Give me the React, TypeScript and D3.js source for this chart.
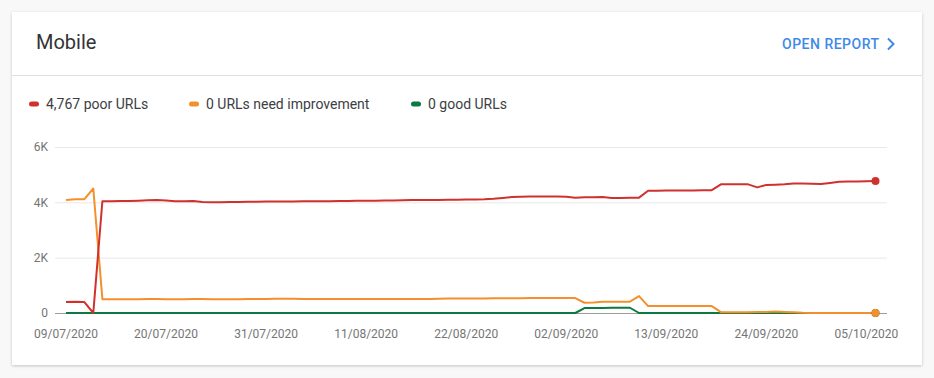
import React from "react";
import * as d3 from "d3";

const startDate = "2020-07-09";
const tickEvery = 11;
const yTicks = [0, 2000, 4000, 6000];

const poorValues = [
  400, 410, 400, 0, 4040, 4040, 4045, 4050, 4060, 4075,
  4080, 4070, 4040, 4040, 4045, 4010, 4000, 4005, 4010, 4010,
  4020, 4025, 4030, 4030, 4030, 4030, 4035, 4035, 4040, 4040,
  4045, 4050, 4055, 4060, 4060, 4065, 4070, 4075, 4080, 4080,
  4085, 4085, 4090, 4095, 4100, 4100, 4110, 4130, 4160, 4190,
  4200, 4210, 4210, 4210, 4210, 4200, 4170, 4180, 4180, 4190,
  4160, 4160, 4165, 4170, 4420, 4420, 4425, 4425, 4430, 4430,
  4440, 4440, 4650, 4650, 4650, 4650, 4540, 4630, 4640, 4650,
  4680, 4680, 4670, 4660, 4700, 4740, 4750, 4755, 4760, 4767,
];

const needsValues = [
  4080, 4110, 4110, 4500, 500, 500, 500, 500, 500, 505,
  505, 500, 495, 500, 505, 505, 500, 495, 495, 500,
  505, 510, 510, 515, 515, 515, 510, 510, 510, 510,
  510, 510, 510, 505, 505, 505, 505, 510, 510, 505,
  510, 515, 520, 520, 520, 525, 525, 530, 530, 535,
  535, 540, 540, 540, 540, 540, 540, 370, 380, 410,
  410, 405, 410, 610, 250, 250, 250, 250, 250, 250,
  250, 250, 30, 30, 30, 30, 40, 40, 50, 40,
  30, 10, 0, 0, 0, 0, 0, 0, 0, 0,
];

const goodValues = [
  0, 0, 0, 0, 0, 0, 0, 0, 0, 0,
  0, 0, 0, 0, 0, 0, 0, 0, 0, 0,
  0, 0, 0, 0, 0, 0, 0, 0, 0, 0,
  0, 0, 0, 0, 0, 0, 0, 0, 0, 0,
  0, 0, 0, 0, 0, 0, 0, 0, 0, 0,
  0, 0, 0, 0, 0, 0, 0, 180, 185, 185,
  190, 190, 190, 0, 0, 0, 0, 0, 0, 0,
  0, 0, 0, 0, 0, 0, 0, 0, 0, 0,
  0, 0, 0, 0, 0, 0, 0, 0, 0, 0,
];

const seriesNames = ["4,767 poor URLs", "0 URLs need improvement", "0 good URLs"];
const seriesColors = ["#d0312d", "#f4902c", "#0b7a41"];

const FONT = "Roboto, 'Noto Sans', Arial, sans-serif";

export default function App() {
  const W = 934;
  const H = 378;
  const start = new Date(startDate + "T00:00:00Z");
  const dates = poorValues.map((_, i) => d3.utcDay.offset(start, i));

  const x = d3
    .scaleUtc()
    .domain([dates[0], dates[dates.length - 1]])
    .range([66, 875.5]);
  const y = d3.scaleLinear().domain([0, 6000]).range([313, 147]);

  const line = d3
    .line<number>()
    .x((_, i) => x(dates[i]))
    .y((v) => y(v))
    .curve(d3.curveLinear);

  const xTicks = dates.filter((_, i) => i % tickEvery === 0);
  const fmt = d3.utcFormat("%d/%m/%Y");
  const yFmt = (v: number) => (v === 0 ? "0" : `${v / 1000}K`);

  const series = [goodValues, needsValues, poorValues];
  const seriesIdx = [2, 1, 0];
  const last = dates.length - 1;

  const legendX = [29, 189, 411];

  return (
    <svg
      width={W}
      height={H}
      style={{ position: "absolute", left: 0, top: 0, display: "block" }}
      fontFamily={FONT}
    >
      <defs>
        <filter id="shadow" x="-5%" y="-5%" width="110%" height="115%">
          <feDropShadow dx="0" dy="1" stdDeviation="1.5" floodColor="#000" floodOpacity="0.22" />
        </filter>
      </defs>
      <rect x={0} y={0} width={W} height={H} fill="#f8f8f8" />
      <rect x={12} y={12} width={910} height={353} fill="#fff" filter="url(#shadow)" rx={1} />

      <text x={36} y={49} fontSize={20} fill="#333333">
        Mobile
      </text>
      <text x={782} y={49} fontSize={14} fontWeight={500} fill="#3f8ae8" letterSpacing={0.5}>
        OPEN REPORT
      </text>
      <path d="M888,38.5 L893.5,44 L888,49.5" fill="none" stroke="#3f8ae8" strokeWidth={2} />
      <line x1={12} x2={922} y1={75.5} y2={75.5} stroke="#e0e0e0" strokeWidth={1} />

      {seriesNames.map((name, i) => (
        <g key={name}>
          <rect x={legendX[i]} y={101.5} width={10} height={5} rx={2.5} fill={seriesColors[i]} />
          <text x={legendX[i] + 17} y={108.5} fontSize={14} fill="#3c4043">
            {name}
          </text>
        </g>
      ))}

      {yTicks.map((t) => (
        <g key={t}>
          {t !== 0 && (
            <line x1={55} x2={887} y1={y(t) + 0.5} y2={y(t) + 0.5} stroke="#e8e8e8" strokeWidth={1} />
          )}
          <text x={48} y={y(t)} dy="0.35em" textAnchor="end" fontSize={12} fill="#757575">
            {yFmt(t)}
          </text>
        </g>
      ))}
      <line x1={55} x2={887} y1={y(0) + 0.5} y2={y(0) + 0.5} stroke="#9e9e9e" strokeWidth={1} />

      {xTicks.map((d) => (
        <text key={d.toISOString()} x={x(d)} y={338} textAnchor="middle" fontSize={12} fill="#757575">
          {fmt(d)}
        </text>
      ))}

      {series.map((vals, k) => (
        <path
          key={k}
          d={line(vals) || ""}
          fill="none"
          stroke={seriesColors[seriesIdx[k]]}
          strokeWidth={2}
          strokeLinejoin="round"
        />
      ))}

      {series.map((vals, k) => (
        <circle
          key={"c" + k}
          cx={x(dates[last])}
          cy={y(vals[last])}
          r={4}
          fill={seriesColors[seriesIdx[k]]}
        />
      ))}
    </svg>
  );
}
